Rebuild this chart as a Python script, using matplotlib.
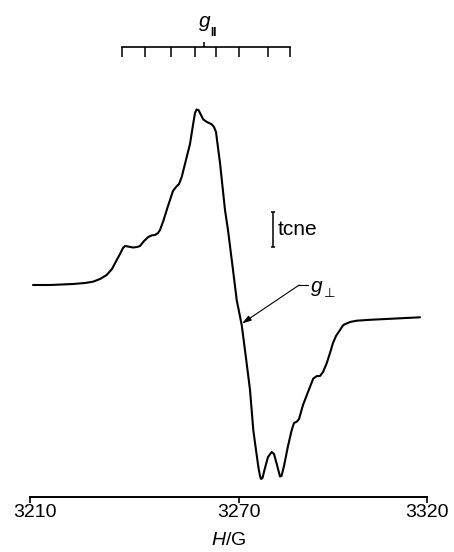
import numpy as np
import matplotlib
matplotlib.use("Agg")
import matplotlib.pyplot as plt
import matplotlib.transforms as mtransforms

plt.rcParams['font.family'] = ['Liberation Sans', 'DejaVu Sans']
plt.rcParams['mathtext.fontset'] = 'custom'
plt.rcParams['mathtext.rm'] = 'Liberation Sans'
plt.rcParams['mathtext.it'] = 'Liberation Sans:italic'

# ---- data ----
field_G = [3210.86, 3215.74, 3222.34, 3225.79, 3228.09, 3230.10, 3232.02, 3233.54,
           3234.89, 3235.84, 3236.70, 3237.27, 3238.13, 3239.57, 3240.72, 3241.58,
           3242.73, 3243.96, 3245.02, 3245.89, 3246.75, 3247.32, 3248.27, 3249.62,
           3251.05, 3251.91, 3252.78, 3253.55, 3254.78, 3255.93, 3256.79, 3257.37,
           3257.80, 3258.37, 3259.09, 3259.75, 3260.81, 3262.16, 3262.82, 3263.40,
           3264.06, 3264.55, 3265.98, 3266.84, 3268.28, 3269.34, 3270.72, 3271.86,
           3272.93, 3273.80, 3274.52, 3275.19, 3275.59, 3275.85, 3276.25, 3276.91,
           3277.71, 3278.70, 3279.31, 3280.11, 3280.90, 3281.30, 3281.97, 3283.03,
           3284.02, 3284.63, 3285.43, 3285.96, 3287.02, 3288.35, 3289.76, 3290.74,
           3291.54, 3292.34, 3293.32, 3294.20, 3295.00, 3295.80, 3296.86, 3297.74,
           3299.52, 3301.30, 3304.84, 3307.50, 3312.82, 3318.14]
signal = [0.0, 0.0, 0.1, 0.2, 0.33, 0.6, 1.0, 1.6,
          2.5, 3.1, 3.7, 3.9, 3.85, 3.75, 3.8, 3.9,
          4.4, 4.8, 4.97, 5.0, 5.2, 5.5, 6.4, 7.9,
          9.4, 9.8, 10.1, 10.8, 12.5, 14.1, 16.0, 17.2,
          17.55, 17.5, 17.0, 16.55, 16.3, 16.07, 15.8, 15.3,
          13.5, 12.2, 7.5, 5.5, 1.5, -1.5, -4.0, -7.3,
          -10.5, -14.5, -16.5, -18.3, -19.1, -19.4, -19.3, -18.3,
          -17.2, -16.7, -16.9, -18.0, -19.15, -19.1, -18.1, -16.1,
          -14.5, -13.8, -13.65, -13.4, -12.0, -10.7, -9.35, -9.1,
          -9.1, -8.7, -7.83, -6.8, -5.8, -5.1, -4.5, -4.0,
          -3.7, -3.57, -3.48, -3.43, -3.33, -3.23]

g_par_lines = [3236.33, 3243.01, 3250.48, 3257.37, 3263.31, 3270.08, 3277.63, 3283.56]
g_par_center = 3260.04
tcne_G = 3278.96
tcne_range = (3.83, 7.33)
g_perp_G = 3270.80
g_perp_signal = -3.85

x_ticks = [3210, 3270, 3320]
x_tick_labels = ['3210', '3270', '3320']

# ---- axis scale as printed (tick spacing differs left/right of 3270) ----
F1 = 209.0 / 397.0


def fwd(x):
    x = np.asarray(x, float)
    return np.where(x < 3270, (x - 3210) / 60.0 * F1, F1 + (x - 3270) / 50.0 * (1 - F1))


def inv(u):
    u = np.asarray(u, float)
    return np.where(u < F1, 3210 + u / F1 * 60.0, 3270 + (u - F1) / (1 - F1) * 50.0)


fig = plt.figure(figsize=(4.54, 5.52), dpi=100)
ax = fig.add_axes([30 / 454, 55 / 552, 397 / 454, 497 / 552])
ax.set_xscale('function', functions=(fwd, inv))
ax.set_xlim(3210, 3320)
ax.set_ylim(-21.2, 28.5)

ax.plot(field_G, signal, color='black', lw=1.5, solid_capstyle='round',
        solid_joinstyle='round')

# spines / ticks
for s in ['left', 'top', 'right']:
    ax.spines[s].set_visible(False)
ax.spines['bottom'].set_linewidth(1.4)
ax.set_yticks([])
ax.set_xticks(x_ticks)
ax.set_xticklabels(x_tick_labels)
ax.minorticks_off()
ax.tick_params(axis='x', direction='out', length=4, width=1.2, pad=1, labelsize=14)
ax.set_xlabel(r'$\mathit{H}$/G', fontsize=14, labelpad=8)
first = ax.get_xticklabels()[0]
first.set_transform(first.get_transform() +
                    mtransforms.ScaledTranslation(5 / 100, 0, fig.dpi_scale_trans))

# g|| stick scale at top
y_line = 23.8
ax.plot([g_par_lines[0], g_par_lines[-1]], [y_line, y_line], color='black', lw=1.2)
ax.vlines(g_par_lines, y_line - 1.0, y_line, color='black', lw=1.1)
ax.vlines([g_par_center], y_line, y_line + 0.5, color='black', lw=1.1)
ax.text(g_par_center, 25.8, 'g', style='italic', fontsize=15, ha='center', va='baseline')
ax.text(g_par_center + 1.7, 24.9, 'II', fontsize=8.5, ha='left', va='baseline',
        fontweight='bold')

# tcne marker
ax.vlines([tcne_G], tcne_range[0], tcne_range[1], color='black', lw=1.1)
ax.hlines([tcne_range[0], tcne_range[1]], tcne_G - 0.5, tcne_G + 0.5, color='black', lw=1.1)
ax.text(tcne_G + 1.4, (tcne_range[0] + tcne_range[1]) / 2, 'tcne', fontsize=15,
        ha='left', va='center')

# g_perp arrow
ax.plot([3286.02, 3288.25], [0.0, 0.0], color='black', lw=0.8)
ax.annotate('', xy=(g_perp_G, g_perp_signal), xytext=(3286.02, 0.0),
            arrowprops=dict(arrowstyle='-|>,head_length=0.55,head_width=0.17',
                            color='black', lw=0.8, shrinkA=0, shrinkB=0))
ax.text(3289.2, -0.7, 'g', style='italic', fontsize=15, ha='left', va='baseline')
ax.text(3292.6, -1.2, '\u22a5', fontsize=9.5, ha='left', va='baseline',
        family=['DejaVu Sans'])

fig.savefig('out.png', dpi=100)
